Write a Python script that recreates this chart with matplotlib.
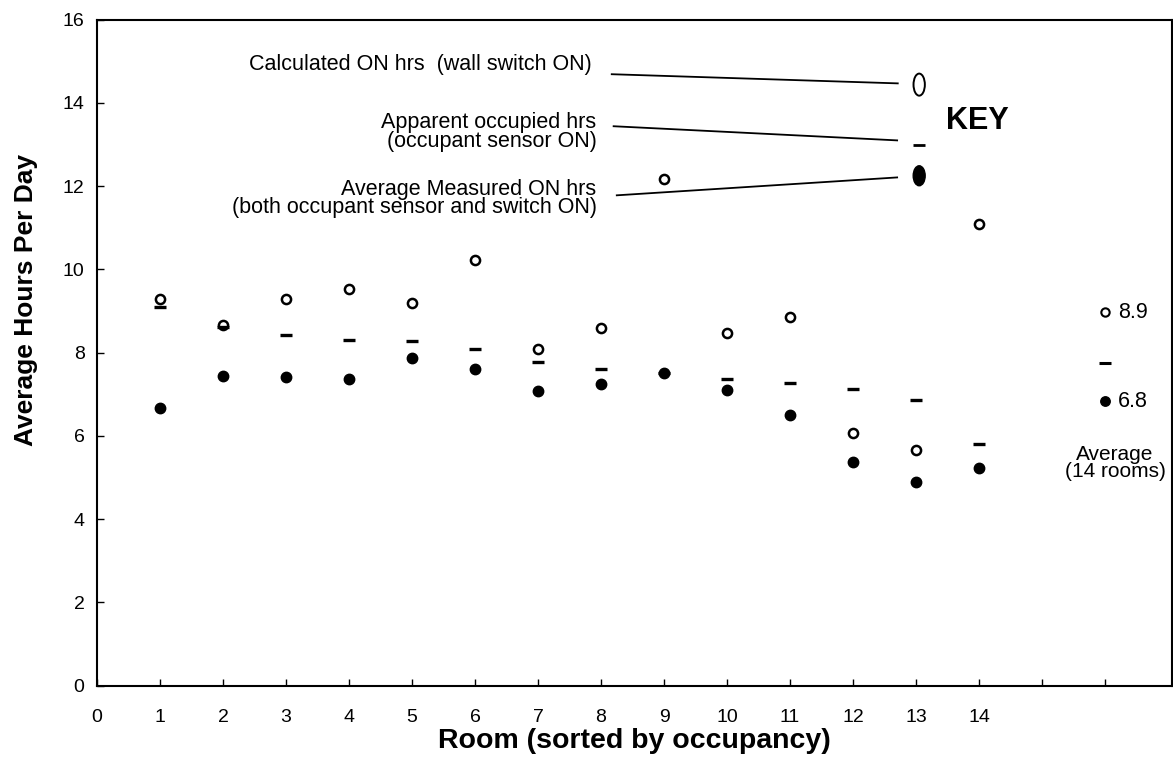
import matplotlib
matplotlib.use('Agg')
from matplotlib import pyplot as plt
from matplotlib.patches import Ellipse

plt.rcParams['font.family'] = ['Liberation Sans', 'DejaVu Sans']

# room numbers (sorted by occupancy)
rooms = [1, 2, 3, 4, 5, 6, 7, 8, 9, 10, 11, 12, 13, 14]
# calculated ON hrs (wall switch ON)
calculated = [9.30, 8.67, 9.29, 9.53, 9.19, 10.23, 8.09, 8.59, 12.18, 8.46, 8.85, 6.08, 5.66, 11.09]
# apparent occupied hrs (occupant sensor ON)
apparent = [9.09, 8.62, 8.43, 8.31, 8.29, 8.08, 7.77, 7.61, 7.50, 7.37, 7.28, 7.12, 6.87, 5.80]
# average measured ON hrs (both sensor and switch ON)
measured = [6.67, 7.44, 7.41, 7.36, 7.88, 7.61, 7.07, 7.24, 7.51, 7.11, 6.51, 5.36, 4.88, 5.22]

# averages over the 14 rooms
avg_x = 16
avg_calculated = 8.97
avg_apparent = 7.75
avg_measured = 6.83

# key
key_x = 13.05
key_y = {'calc': 14.44, 'app': 12.98, 'meas': 12.25}

fig = plt.figure(figsize=(11.73, 7.58), dpi=100)
ax = fig.add_axes([0.0827, 0.0956, 0.9163, 0.8784])

ax.plot(rooms, calculated, 'o', mfc='white', mec='black', ms=6.6, mew=1.8, ls='none')
ax.plot(rooms, apparent, '_', color='black', ms=8, mew=2.4, ls='none')
ax.plot(rooms, measured, 'o', color='black', ms=7.5, ls='none')

ax.plot([avg_x], [avg_calculated], 'o', mfc='white', mec='black', ms=6, mew=1.5)
ax.plot([avg_x], [avg_apparent], '_', color='black', ms=8, mew=2.2)
ax.plot([avg_x], [avg_measured], 'o', color='black', ms=6.8)
ax.text(avg_x + 0.2, avg_calculated, '8.9', fontsize=15.5, va='center', ha='left')
ax.text(avg_x + 0.2, avg_measured, '6.8', fontsize=15.5, va='center', ha='left')
ax.text(16.16, 5.35, 'Average\n(14 rooms)', fontsize=15, ha='center', va='center',
        linespacing=0.85)

# key glyphs
ax.add_patch(Ellipse((key_x, key_y['calc']), 0.18, 0.53, fill=False, ec='black', lw=1.4))
ax.plot([key_x], [key_y['app']], '_', color='black', ms=9, mew=2.0)
ax.add_patch(Ellipse((key_x, key_y['meas']), 0.19, 0.48, color='black'))
ax.text(13.97, 13.56, 'KEY', fontsize=22, fontweight='bold', ha='center', va='center')

# key labels and leader lines
ax.text(7.86, 14.92, 'Calculated ON hrs  (wall switch ON)', fontsize=15.5, ha='right', va='center')
ax.plot([8.17, 12.71], [14.69, 14.47], color='black', lw=1.3)
ax.text(7.93, 13.3, 'Apparent occupied hrs\n(occupant sensor ON)', fontsize=15.5,
        ha='right', va='center', linespacing=0.85)
ax.plot([8.2, 12.7], [13.44, 13.1], color='black', lw=1.3)
ax.text(7.93, 11.7, 'Average Measured ON hrs\n(both occupant sensor and switch ON)', fontsize=15.5,
        ha='right', va='center', linespacing=0.85)
ax.plot([8.25, 12.7], [11.78, 12.21], color='black', lw=1.3)

ax.set_xlim(0, 17.06)
ax.set_ylim(0, 16)
ax.set_xticks(range(0, 17))
ax.set_xticklabels([str(i) for i in range(0, 15)] + ['', ''])
ax.set_yticks(range(0, 17, 2))
ax.tick_params(direction='in', length=5, width=1, labelsize=14)
ax.tick_params(axis='x', pad=17)
ax.tick_params(axis='y', pad=9)
for s in ax.spines.values():
    s.set_linewidth(1.5)

ax.set_xlabel('Room (sorted by occupancy)', fontsize=20.5, fontweight='bold', labelpad=1)
ax.set_ylabel('Average Hours Per Day', fontsize=19, fontweight='bold')
ax.yaxis.set_label_coords(-0.055, 0.579)

plt.savefig('out.png', dpi=100)
